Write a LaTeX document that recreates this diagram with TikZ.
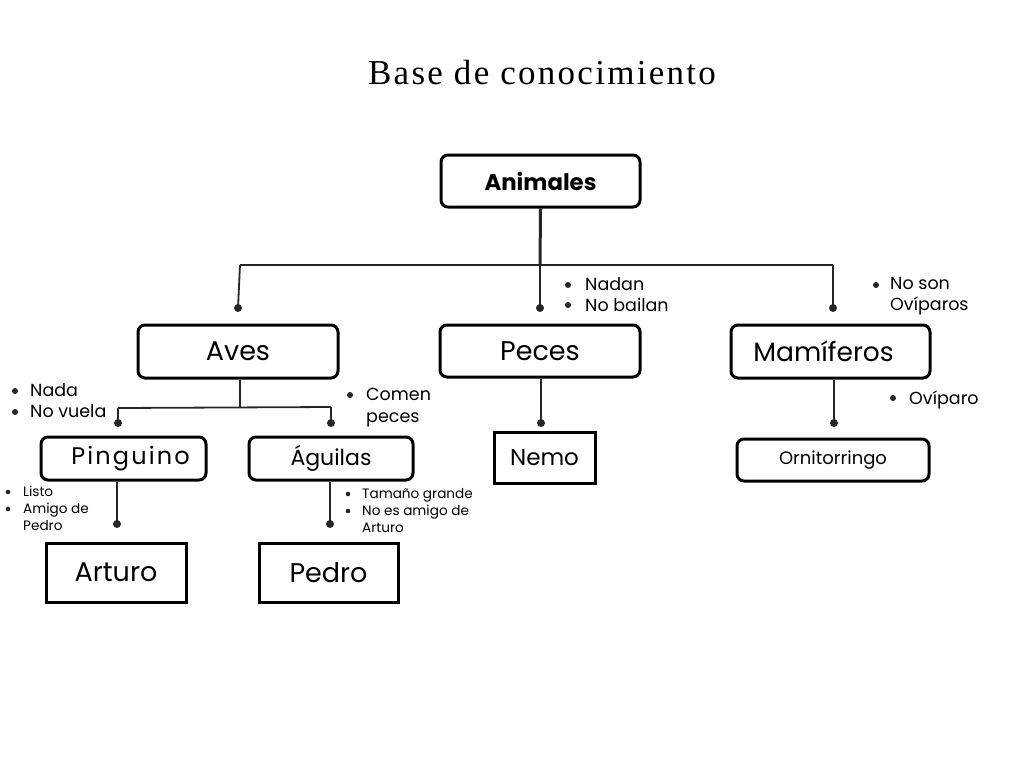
\documentclass[tikz,border=0pt]{standalone}
\usepackage{fontspec}
\setmainfont{Poppins}
\newfontfamily\titlefont[LetterSpace=6.5]{Liberation Serif}
\begin{document}
\begin{tikzpicture}[x=1pt,y=-1pt,
  rbox/.style={draw=black,line width=3pt,rounded corners=7pt,inner sep=0pt},
  sbox/.style={draw=black,line width=3pt,inner sep=0pt},
  conn/.style={draw=black!85,line width=1.8pt},
  dot/.style={circle,fill=black!85,inner sep=0pt,minimum size=8pt},
  btxt/.style={anchor=north west,inner sep=0pt,align=left,font=\fontsize{17.5}{20.5}\selectfont},
  stxt/.style={anchor=north west,inner sep=0pt,align=left,font=\fontsize{13.6}{17}\selectfont}
]
\useasboundingbox (0,0) rectangle (1024,768);
\node (title) at (542,73) {\titlefont\fontsize{35}{40}\selectfont Base de conocimiento};

% boxes
\node[rbox,minimum width=199pt,minimum height=52pt,font=\bfseries\fontsize{22.8}{26}\selectfont] (anim) at (540.5,181) {Animales};
\node[rbox,minimum width=200pt,minimum height=53pt,font=\fontsize{27}{30}\selectfont] (aves) at (238,351.5) {Aves};
\node[rbox,minimum width=200pt,minimum height=52pt,font=\fontsize{27}{30}\selectfont] (peces) at (540,351) {Peces};
\node[rbox,minimum width=199pt,minimum height=53pt,font=\fontsize{26.5}{30}\selectfont] (mami) at (830.5,351.5) {Mamíferos\hspace*{14pt}};
\node[rbox,minimum width=165pt,minimum height=43pt,font=\fontsize{24}{26}\selectfont\addfontfeature{LetterSpace=9}] (ping) at (123.5,458.5) {\hspace*{14pt}Pinguino};
\node[rbox,minimum width=164pt,minimum height=43pt,font=\fontsize{22}{26}\selectfont] (agui) at (331,458.5) {Águilas};
\node[sbox,minimum width=140pt,minimum height=59pt,font=\fontsize{27}{30}\selectfont] (artu) at (116,572.5) {Arturo};
\node[sbox,minimum width=139pt,minimum height=59pt,font=\fontsize{27}{30}\selectfont] (pedr) at (328.5,572.5) {Pedro};
\node[sbox,minimum width=101pt,minimum height=51pt,font=\fontsize{23}{26}\selectfont] (nemo) at (544.5,457.5) {Nemo};
\node[rbox,minimum width=192pt,minimum height=42pt,font=\fontsize{18}{22}\selectfont] (orni) at (833,460) {Ornitorringo};

% junction coordinates
\coordinate (j0) at (540,265);
\coordinate (jl) at (240,265);
\coordinate (jr) at (833,265);
\coordinate (d1) at (238,308);
\coordinate (d2) at (540,308);
\coordinate (d3) at (833,308);
\coordinate (ja) at (240,407);
\coordinate (ja1) at (118,408);
\coordinate (ja2) at (331,407);
\coordinate (da1) at (118,423);
\coordinate (da2) at (331,423);
\coordinate (dp) at (117,524);
\coordinate (dg) at (330,524);
\coordinate (dn) at (541,423);
\coordinate (dm) at (834,423);

% connectors
\draw[conn,line width=3pt] (anim.south) -- (j0);
\draw[conn] (jl) -- (jr);
\draw[conn] (jl) -- (d1);
\draw[conn] (j0) -- (d2);
\draw[conn] (jr) -- (d3);
\draw[conn] (aves.south -| ja) -- (ja);
\draw[conn] (ja1) -- (ja2);
\draw[conn] (ja1) -- (da1);
\draw[conn] (ja2) -- (da2);
\draw[conn] (ping.south -| dp) -- (dp);
\draw[conn] (agui.south -| dg) -- (dg);
\draw[conn] (peces.south -| dn) -- (dn);
\draw[conn] (mami.south -| dm) -- (dm);
\foreach \d in {d1,d2,d3,da1,da2,dp,dg,dn,dm} \node[dot] at (\d) {};

% bullet lists
\node[btxt] (l1) at (585,277.5) {Nadan\\No bailan};
\fill[black!85] (568,285) circle (3pt) (568,305) circle (3pt);
\node[btxt] (l2) at (890,277.5) {No son\\Ovíparos};
\fill[black!85] (876,285) circle (3pt);
\node[btxt,font=\fontsize{17.5}{21}\selectfont] (l3) at (30,383.5) {Nada\\No vuela};
\fill[black!85] (15,391) circle (3pt) (15,412) circle (3pt);
\node[btxt,font=\fontsize{17.5}{22}\selectfont] (l4) at (366,387.5) {Comen\\peces};
\fill[black!85] (350,395) circle (3pt);
\node[btxt] (l5) at (909,390.5) {Ovíparo};
\fill[black!85] (893,398) circle (3pt);
\node[stxt] (l6) at (23,486) {Listo\\Amigo de\\Pedro};
\fill[black!85] (8,492) circle (2.3pt) (8,509) circle (2.3pt);
\node[stxt] (l7) at (362,488) {Tamaño grande\\No es amigo de\\Arturo};
\fill[black!85] (348,494) circle (2.3pt) (348,511) circle (2.3pt);
\end{tikzpicture}
\end{document}
